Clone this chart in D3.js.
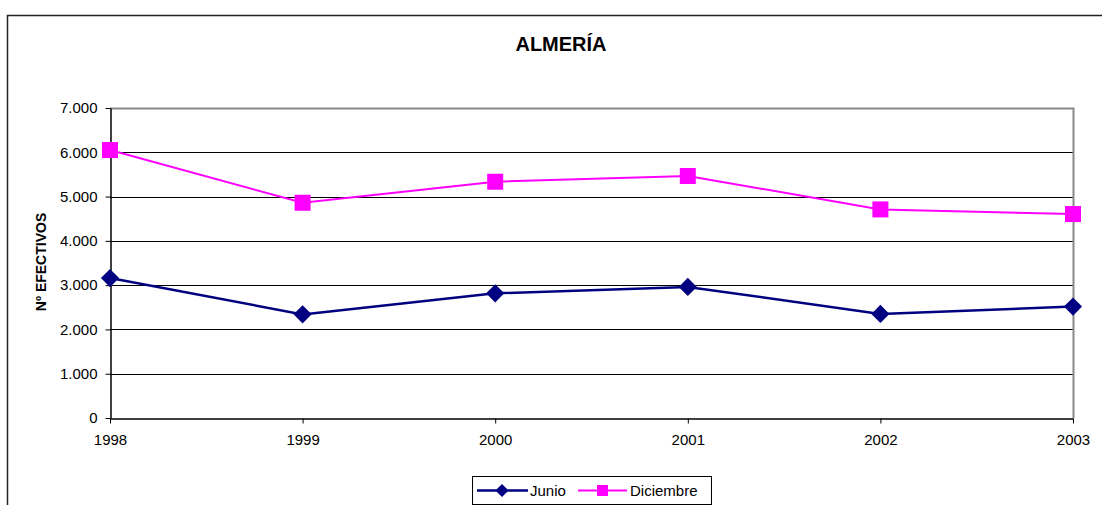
<!DOCTYPE html>
<html lang="es">
<head>
  <meta charset="UTF-8">
  <title>ALMERÍA</title>
  <script src="https://d3js.org/d3.v7.min.js"></script>
  <style>
    body { margin: 0; background: #fff; }
    text { font-family: "Liberation Sans", Arial, sans-serif; }
  </style>
</head>
<body>
  <script>
    // data
    const years = ["1998", "1999", "2000", "2001", "2002", "2003"];
    const junio = [3160, 2340, 2815, 2960, 2350, 2515];
    const diciembre = [6050, 4860, 5335, 5465, 4710, 4605];
    const yTicks = [0, 1000, 2000, 3000, 4000, 5000, 6000, 7000];

    const width = 1102, height = 505;
    const margin = { left: 110, right: 1073, top: 108, bottom: 418 };

    const svg = d3.select("body").append("svg")
      .attr("width", width)
      .attr("height", height);

    // outer chart frame
    svg.append("rect")
      .attr("x", 7.5).attr("y", 15.5)
      .attr("width", 1200).attr("height", 600)
      .attr("fill", "none").attr("stroke", "#222").attr("stroke-width", 1.5);

    const x = d3.scalePoint().domain(years).range([margin.left, margin.right]);
    const y = d3.scaleLinear().domain([0, 7000]).range([margin.bottom, margin.top]);

    const fmt = d => d === 0 ? "0" : d3.format(",")(d).replace(/,/g, ".");

    // gridlines
    svg.append("g").selectAll("line")
      .data(yTicks.filter(d => d > 0 && d < 7000))
      .enter().append("line")
      .attr("x1", margin.left).attr("x2", margin.right)
      .attr("y1", d => Math.round(y(d)) + 0.5).attr("y2", d => Math.round(y(d)) + 0.5)
      .attr("stroke", "#000").attr("stroke-width", 1);

    // plot border (top + right grey)
    svg.append("path")
      .attr("d", `M${margin.left},${margin.top + 0.5}H${margin.right + 0.5}V${margin.bottom}`)
      .attr("fill", "none").attr("stroke", "#888").attr("stroke-width", 2);

    // axes
    const yAxis = svg.append("g")
      .attr("transform", `translate(${margin.left + 0.5},0)`)
      .call(d3.axisLeft(y).tickValues(yTicks).tickFormat(fmt).tickSize(5).tickSizeOuter(0));
    const xAxis = svg.append("g")
      .attr("transform", `translate(0,${margin.bottom + 0.5})`)
      .call(d3.axisBottom(x).tickSize(5).tickSizeOuter(0));

    [yAxis, xAxis].forEach(g => {
      g.attr("font-size", 15).attr("font-family", "Liberation Sans, Arial, sans-serif");
      g.select(".domain").attr("stroke", "#000").attr("stroke-width", 1.5);
      g.selectAll(".tick line").attr("stroke", "#000");
      g.selectAll("text").attr("fill", "#000");
    });
    yAxis.selectAll("text").attr("x", -13);
    xAxis.selectAll("text").attr("y", 0).attr("dy", 0).attr("transform", "translate(0,26)");

    // title
    svg.append("text")
      .attr("x", 561).attr("y", 51)
      .attr("text-anchor", "middle")
      .attr("font-size", 20).attr("font-weight", "bold")
      .text("ALMERÍA");

    // y label
    svg.append("text")
      .attr("transform", "translate(46,262) rotate(-90)")
      .attr("text-anchor", "middle")
      .attr("font-size", 14).attr("font-weight", "bold")
      .text("Nº EFECTIVOS");

    const line = d3.line().x((d, i) => x(years[i])).y(d => y(d));
    const diamond = d3.symbol().type(d3.symbolDiamond2).size(210);
    const diamondSmall = d3.symbol().type(d3.symbolDiamond2).size(110);

    // Diciembre
    svg.append("path").datum(diciembre)
      .attr("d", line).attr("fill", "none")
      .attr("stroke", "#ff00ff").attr("stroke-width", 2);
    svg.append("g").selectAll("rect").data(diciembre).enter().append("rect")
      .attr("x", (d, i) => x(years[i]) - 8).attr("y", d => y(d) - 8)
      .attr("width", 16).attr("height", 16).attr("fill", "#ff00ff");

    // Junio
    svg.append("path").datum(junio)
      .attr("d", line).attr("fill", "none")
      .attr("stroke", "#000080").attr("stroke-width", 2.5);
    svg.append("g").selectAll("path").data(junio).enter().append("path")
      .attr("d", diamond)
      .attr("transform", (d, i) => `translate(${x(years[i])},${y(d)})`)
      .attr("fill", "#000080");

    // legend
    const lg = svg.append("g");
    lg.append("rect")
      .attr("x", 472.5).attr("y", 476.5).attr("width", 239).attr("height", 28)
      .attr("fill", "#fff").attr("stroke", "#000").attr("stroke-width", 1);
    const ly = 490.5;
    lg.append("line").attr("x1", 477).attr("x2", 528).attr("y1", ly).attr("y2", ly)
      .attr("stroke", "#000080").attr("stroke-width", 2.5);
    lg.append("path").attr("d", diamondSmall).attr("transform", `translate(502,${ly})`).attr("fill", "#000080");
    lg.append("text").attr("x", 530).attr("y", ly + 5.5).attr("font-size", 15).text("Junio");
    lg.append("line").attr("x1", 578).attr("x2", 627).attr("y1", ly).attr("y2", ly)
      .attr("stroke", "#ff00ff").attr("stroke-width", 2);
    lg.append("rect").attr("x", 597).attr("y", ly - 5.5).attr("width", 11).attr("height", 11).attr("fill", "#ff00ff");
    lg.append("text").attr("x", 630).attr("y", ly + 5.5).attr("font-size", 15).text("Diciembre");
  </script>
</body>
</html>
